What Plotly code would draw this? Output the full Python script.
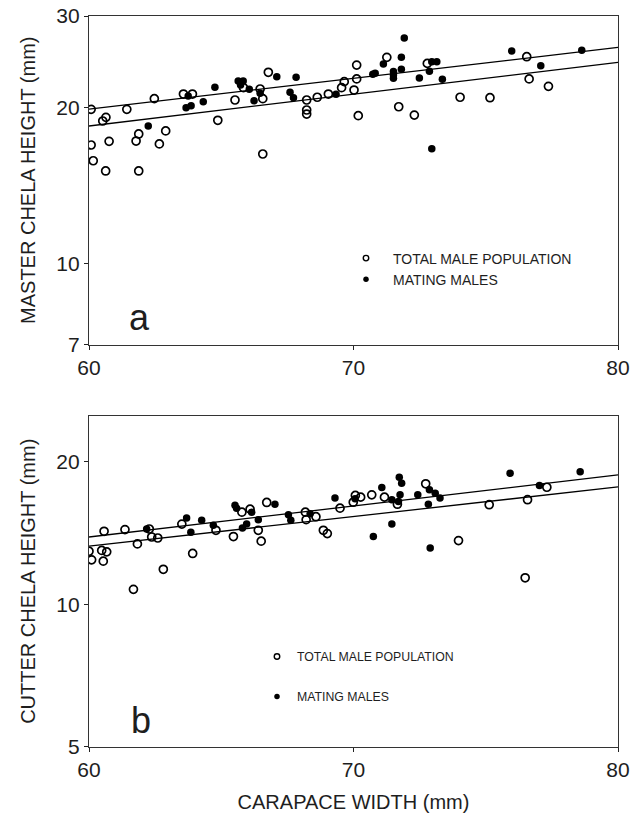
import plotly.graph_objects as go
import math

# ---- Panel a: master chela height vs carapace width ----
a_total_cw = [60.08, 60.64, 60.52, 60.08, 60.16, 60.76, 60.63, 61.43, 61.88, 61.78, 61.88,
              62.66, 62.90, 62.47, 63.57, 63.91, 64.87, 65.52, 65.84, 66.47, 66.57, 66.57,
              66.78, 68.23, 68.23, 68.23, 68.63, 69.05, 69.55, 69.65, 70.12, 70.12, 70.02,
              70.18, 71.26, 72.79, 71.71, 72.30, 74.03, 75.16, 76.55, 76.64, 77.37]
a_total_h = [19.84, 19.15, 18.84, 16.94, 15.80, 17.22, 15.10, 19.84, 15.10, 17.24, 17.79,
             17.02, 18.03, 20.80, 21.23, 21.23, 18.90, 20.68, 21.84, 21.71, 20.80, 16.28,
             23.38, 20.68, 19.78, 19.43, 20.93, 21.23, 21.84, 22.43, 24.14, 22.70, 21.61,
             19.29, 24.98, 24.32, 20.07, 19.34, 20.93, 20.89, 25.05, 22.70, 21.97]

a_mating_cw = [62.24, 63.67, 63.86, 63.75, 64.32, 64.76, 65.64, 65.83, 65.73, 66.06, 66.24,
               66.47, 67.10, 67.83, 67.60, 67.73, 69.34, 71.92, 71.81, 71.13, 70.82, 70.73,
               71.51, 71.51, 71.51, 71.81, 72.49, 72.87, 72.96, 73.15, 73.36, 72.96, 75.98,
               77.08, 78.63]
a_mating_h = [18.43, 19.98, 20.16, 21.05, 20.52, 21.88, 22.49, 22.49, 22.10, 21.68, 20.61,
              21.30, 22.93, 22.87, 21.39, 20.89, 21.20, 27.22, 24.98, 24.25, 23.28, 23.18,
              23.45, 23.11, 22.77, 23.69, 22.80, 23.49, 24.50, 24.50, 22.66, 16.67, 25.68,
              24.07, 25.77]

# ---- Panel b: cutter chela height vs carapace width ----
b_total_cw = [60.00, 60.10, 60.48, 60.67, 60.54, 60.57, 61.36, 61.83, 61.68, 62.28, 62.37,
              62.60, 62.81, 63.51, 63.92, 64.80, 65.46, 65.78, 66.09, 66.40, 66.51, 66.72,
              68.18, 68.21, 68.58, 68.86, 69.01, 69.49, 70.07, 69.99, 70.27, 70.69, 71.17,
              71.66, 72.73, 73.97, 75.13, 76.58, 77.31, 76.49]
b_total_h = [12.94, 12.41, 12.99, 12.90, 12.33, 14.26, 14.38, 13.41, 10.75, 14.42, 13.87,
             13.80, 11.85, 14.77, 12.80, 14.33, 13.90, 15.65, 15.88, 14.33, 13.59, 16.41,
             15.65, 15.09, 15.31, 14.33, 14.10, 15.96, 16.98, 16.43, 16.84, 17.03, 16.84,
             16.27, 17.97, 13.63, 16.23, 16.63, 17.67, 11.37]

b_mating_cw = [62.18, 63.69, 63.85, 64.26, 64.70, 65.52, 65.58, 66.15, 65.96, 65.80, 66.40,
               67.03, 67.54, 67.63, 68.36, 69.30, 70.06, 71.07, 71.45, 71.73, 71.82, 71.76,
               71.70, 72.43, 72.87, 73.09, 73.27, 72.83, 71.45, 70.75, 72.90, 75.92, 77.03,
               78.57]
b_mating_h = [14.42, 15.21, 14.19, 15.04, 14.68, 16.18, 15.96, 15.65, 14.77, 14.49, 15.09,
              16.27, 15.46, 15.04, 15.54, 16.76, 16.71, 17.65, 16.63, 18.55, 18.02, 17.03,
              16.49, 17.03, 17.45, 17.16, 16.76, 16.27, 14.77, 13.90, 13.15, 18.91, 17.82,
              19.06]

# ---- Fitted regression lines (value at each end of the width range) ----
fit_cw = [60, 80]
a_fit_mating = [19.85, 26.10]
a_fit_total = [18.43, 24.43]
b_fit_mating = [13.87, 18.76]
b_fit_total = [13.26, 17.70]

# ---- Axis ticks ----
x_ticks = [60, 70, 80]
a_y_ticks = [7, 10, 20, 30]
b_y_ticks = [5, 10, 20]
legend_labels = ["TOTAL MALE POPULATION", "MATING MALES"]

W, H = 641, 815
TXT = "#1e1e1e"
FONT = "Liberation Sans, Arial, Helvetica, sans-serif"
NARROW = "Liberation Sans Narrow, Arial Narrow, sans-serif"

# plot areas in pixels (left, right, top, bottom)
PX_L, PX_R = 89, 618
A_T, A_B = 16, 344.5
B_T, B_B = 416, 746.5

xdom = [PX_L / W, PX_R / W]
a_dom = [1 - A_B / H, 1 - A_T / H]
b_dom = [1 - B_B / H, 1 - B_T / H]

open_marker = dict(symbol="circle-open", size=8, color="black", line=dict(width=1.7, color="black"))
fill_marker = dict(symbol="circle", size=7.5, color="black")

fig = go.Figure()

def add_panel(xa, ya, tot_x, tot_y, mat_x, mat_y, fit_m, fit_t, leg):
    fig.add_trace(go.Scatter(x=fit_cw, y=fit_m, mode="lines", xaxis=xa, yaxis=ya,
                             line=dict(color="black", width=1.3), showlegend=False))
    fig.add_trace(go.Scatter(x=fit_cw, y=fit_t, mode="lines", xaxis=xa, yaxis=ya,
                             line=dict(color="black", width=1.3), showlegend=False))
    fig.add_trace(go.Scatter(x=tot_x, y=tot_y, mode="markers", xaxis=xa, yaxis=ya,
                             marker=open_marker, showlegend=False))
    fig.add_trace(go.Scatter(x=mat_x, y=mat_y, mode="markers", xaxis=xa, yaxis=ya,
                             marker=fill_marker, showlegend=False))
    # legend keys (smaller symbols than the data points)
    fig.add_trace(go.Scatter(x=[None], y=[None], mode="markers", xaxis=xa, yaxis=ya,
                             name=legend_labels[0], legend=leg, legendgroup=leg + "t",
                             marker=dict(symbol="circle-open", size=5.5, color="black",
                                         line=dict(width=1.4, color="black"))))
    fig.add_trace(go.Scatter(x=[None], y=[None], mode="markers", xaxis=xa, yaxis=ya,
                             name=legend_labels[1], legend=leg, legendgroup=leg + "m",
                             marker=dict(symbol="circle", size=5.5, color="black")))

add_panel("x", "y", a_total_cw, a_total_h, a_mating_cw, a_mating_h,
          a_fit_mating, a_fit_total, "legend")
add_panel("x2", "y2", b_total_cw, b_total_h, b_mating_cw, b_mating_h,
          b_fit_mating, b_fit_total, "legend2")

tickfont = dict(family=FONT, size=21, color=TXT)
titlefont = dict(family=FONT, size=20, color=TXT)

def xaxis(anchor, title=None):
    d = dict(domain=xdom, anchor=anchor, range=[60, 80], tickvals=x_ticks,
             ticktext=[str(v) for v in x_ticks], ticks="outside", ticklen=4,
             tickwidth=1.2, tickcolor="#222", showline=True, linecolor="#333",
             linewidth=1.4, mirror=True, showgrid=False, zeroline=False,
             tickfont=tickfont, automargin=False)
    if title:
        d["title"] = dict(text=title, font=titlefont)
    return d

def yaxis(anchor, dom, lo, hi, tv, title):
    return dict(domain=dom, anchor=anchor, type="log",
                range=[math.log10(lo), math.log10(hi)], tickvals=tv,
                ticktext=[str(v) for v in tv], ticks="outside", ticklen=4,
                tickwidth=1.2, tickcolor="#222", showline=True, linecolor="#333",
                linewidth=1.4, mirror=True, showgrid=False, zeroline=False,
                tickfont=tickfont, automargin=False,
                title=dict(text=title, font=titlefont))

def inner_x(over, anchor):
    return dict(overlaying=over, anchor=anchor, domain=xdom, range=[60, 80],
                tickvals=x_ticks, ticks="inside", ticklen=4, tickwidth=1.2,
                tickcolor="#222", showticklabels=False, showline=False,
                showgrid=False, zeroline=False, automargin=False)

def inner_y(over, anchor, dom, lo, hi, tv):
    return dict(overlaying=over, anchor=anchor, domain=dom, type="log",
                range=[math.log10(lo), math.log10(hi)], tickvals=tv,
                ticks="inside", ticklen=4, tickwidth=1.2, tickcolor="#222",
                showticklabels=False, showline=False, showgrid=False, zeroline=False,
                automargin=False)

legfont_a = dict(family=NARROW, size=14, color=TXT)
legfont_b = dict(family=NARROW, size=12.3, color=TXT)

fig.update_layout(
    width=W, height=H,
    margin=dict(l=0, r=0, t=0, b=0, autoexpand=False),
    paper_bgcolor="white", plot_bgcolor="white",
    xaxis=xaxis("y"),
    yaxis=yaxis("x", a_dom, 7, 30, a_y_ticks, "MASTER CHELA HEIGHT (mm)"),
    xaxis2=xaxis("y2", "CARAPACE WIDTH (mm)"),
    yaxis2=yaxis("x2", b_dom, 5, 25, b_y_ticks, "CUTTER CHELA HEIGHT (mm)"),
    xaxis3=inner_x("x", "y"),
    yaxis3=inner_y("y", "x", a_dom, 7, 30, a_y_ticks),
    xaxis4=inner_x("x2", "y2"),
    yaxis4=inner_y("y2", "x2", b_dom, 5, 25, b_y_ticks),
    legend=dict(x=(366 - 27) / W, y=1 - 242.5 / H, xanchor="left", yanchor="top",
                font=legfont_a, bgcolor="rgba(0,0,0,0)", itemwidth=44,
                traceorder="normal"),
    legend2=dict(x=(277 - 20) / W, y=1 - 642 / H, xanchor="left", yanchor="top",
                 font=legfont_b, bgcolor="rgba(0,0,0,0)", itemwidth=30,
                 traceorder="grouped", tracegroupgap=21),
    annotations=[
        dict(text="a", xref="x domain", yref="y domain", x=0.096, y=0.081,
             xanchor="center", yanchor="middle", showarrow=False,
             font=dict(family=FONT, size=36, color=TXT)),
        dict(text="b", xref="x2 domain", yref="y2 domain", x=0.098, y=0.080,
             xanchor="center", yanchor="middle", showarrow=False,
             font=dict(family=FONT, size=36, color=TXT)),
    ],
)

fig.write_html("out.html")
